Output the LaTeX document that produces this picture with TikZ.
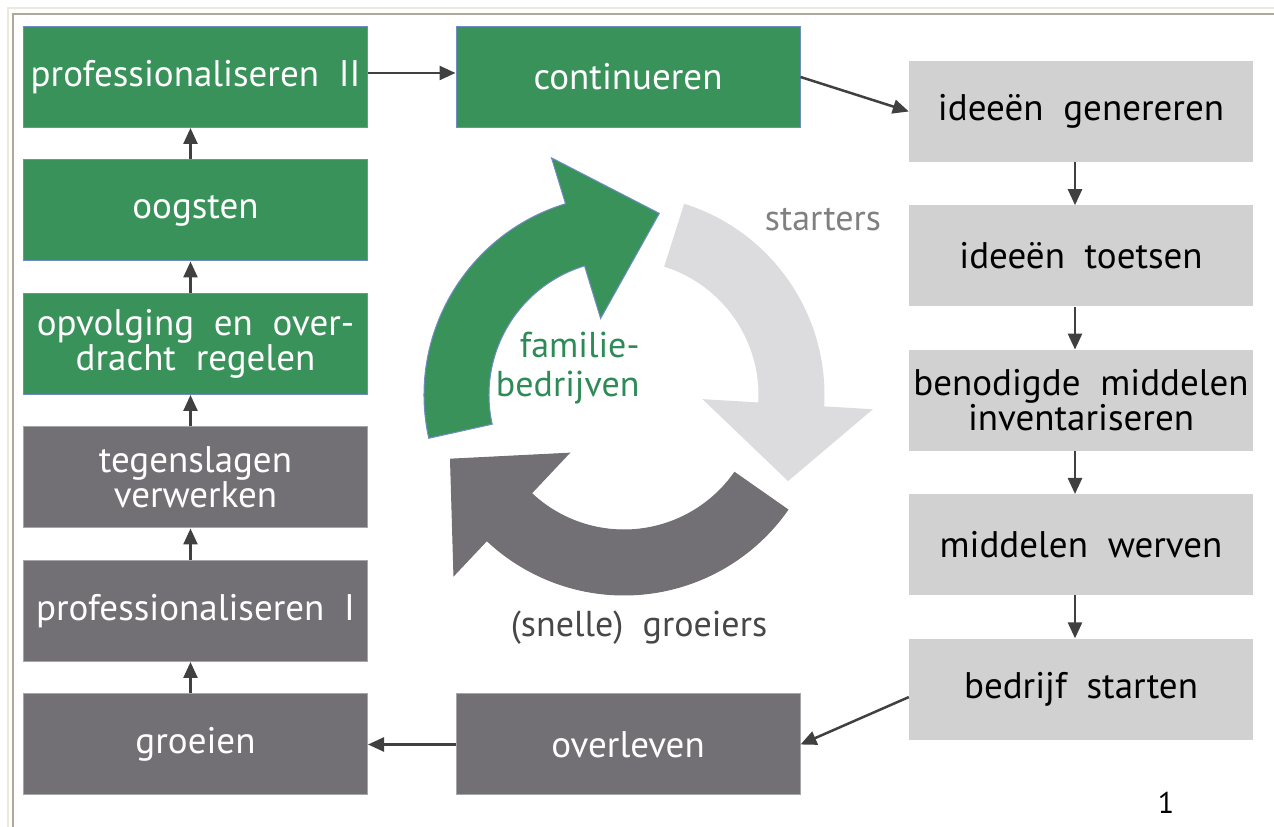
\documentclass[tikz,border=0pt]{standalone}
\usepackage{fontspec}
\setmainfont[WordSpace=2]{PT Sans}
\usetikzlibrary{arrows.meta,positioning}
\definecolor{cgreen}{RGB}{57,146,90}
\definecolor{cdark}{RGB}{114,112,116}
\definecolor{clight}{RGB}{209,209,209}
\definecolor{carc}{RGB}{220,219,222}
\definecolor{cedge}{RGB}{112,140,196}
\definecolor{ctxtgreen}{RGB}{46,139,87}
\definecolor{cframe}{RGB}{236,232,218}
\definecolor{cframein}{RGB}{172,168,158}
\tikzset{
  phase/.style={minimum width=344pt, minimum height=101pt, inner sep=4pt,
                align=center, font=\fontsize{37}{33}\selectfont},
  famphase/.style={phase, fill=cgreen, draw=cedge, line width=1pt, text=white},
  growphase/.style={phase, fill=cdark, draw=gray!70, line width=1pt, text=white},
  startphase/.style={phase, fill=clight, text=black},
  flow/.style={-{Triangle[length=16pt,width=14pt]}, black!75, line width=2.5pt},
  cyclab/.style={font=\fontsize{36}{39}\selectfont},
}

\begin{document}
\begin{tikzpicture}[x=1pt,y=1pt]
  \useasboundingbox (0,0) rectangle (1274,827);
  % frame
  \draw[cframe, line width=2pt] (8,0) -- (8,819) -- (1274,819);
  \draw[cframein, line width=2pt] (13,0) -- (13,813) -- (1274,813);

  % left column
  \node[growphase] (groei) at (195.5,82.5) {groeien};
  \node[growphase, above=31.5pt of groei] (prof1) {professionaliseren I};
  \node[growphase, above=31.5pt of prof1] (tegen) {tegenslagen\\verwerken};
  \node[famphase, above=31.5pt of tegen] (opvolg) {opvolging en over-\\dracht regelen};
  \node[famphase, above=31.5pt of opvolg] (oogst) {oogsten};
  \node[famphase, above=31.5pt of oogst] (prof2) {professionaliseren II};

  % middle
  \node[famphase] (cont) at (628,750) {continueren};
  \node[growphase] (over) at (628,82.5) {overleven};

  % right column
  \node[startphase] (gen) at (1081,715.5) {ideeën genereren};
  \node[startphase, below=43pt of gen] (toets) {ideeën toetsen};
  \node[startphase, below=43pt of toets] (beno) {benodigde middelen\\inventariseren};
  \node[startphase, below=43pt of beno] (werv) {middelen werven};
  \node[startphase, below=43pt of werv] (start) {bedrijf starten};

  \draw[flow] ([yshift=4pt]prof2.east) -- ([yshift=4pt]prof2.east -| cont.west);
  \draw[flow] (cont.east) -- (gen.west);
  \foreach \a/\b in {gen/toets, toets/beno, beno/werv, werv/start}
    \draw[flow] ([xshift=-6pt]\a.south) -- ([xshift=-6pt]\b.north);
  \draw[flow] ([yshift=-8pt]start.west) -- (over.east);
  \draw[flow] (over.west) -- (groei.east);
  \foreach \a/\b in {groei/prof1, prof1/tegen, tegen/opvolg, opvolg/oogst, oogst/prof2}
    \draw[flow] ([xshift=-5pt]\a.north) -- ([xshift=-5pt]\b.south);

  % cycle
  \begin{scope}[shift={(624,432)}]
    \foreach \col/\edgecol/\fromang/\baseang/\tipang in
        {cgreen/cedge/192.5/107/79, carc/carc/72.4/-3.4/-27.5, cdark/cdark/-35/-133.3/-159.7}
      \filldraw[fill=\col, draw=\edgecol, line width=1pt]
        (\fromang:200) arc[start angle=\fromang, end angle=\baseang, radius=200]
        -- (\baseang:248) -- (\tipang:185) -- (\baseang:80) -- (\baseang:135)
        arc[start angle=\baseang, end angle=\fromang, radius=135] -- cycle;
  \end{scope}

  \node[cyclab, text=black!50] (startlab) at (823,607) {starters};
  \node[cyclab, text=ctxtgreen, align=right, anchor=east] (famlab) at (643,459) {familie-\\bedrijven};
  \node[cyclab, text=black!72] (growlab) at (639,199) {(snelle) groeiers};
  \node[font=\fontsize{30}{30}\selectfont] (pagenr) at (1166,24) {1};
\end{tikzpicture}
\end{document}
